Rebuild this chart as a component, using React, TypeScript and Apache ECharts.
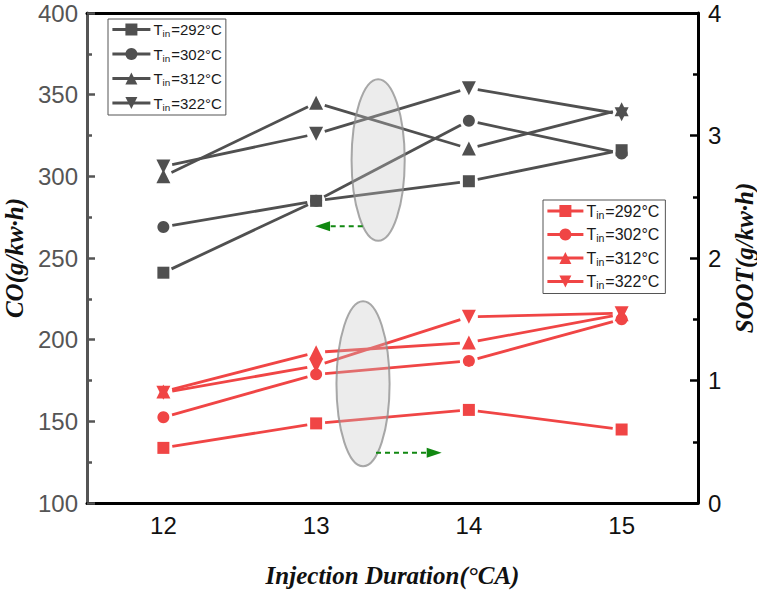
import React, { useEffect, useRef } from "react";
import * as echarts from "echarts";

const categories = ["12", "13", "14", "15"];
const temps = ["292", "302", "312", "322"];

const co292 = [241, 285, 297, 316];
const co302 = [269, 285, 334, 314];
const co312 = [300, 345, 317, 341];
const co322 = [306, 326, 354, 338];

const soot292 = [0.45, 0.65, 0.76, 0.6];
const soot302 = [0.7, 1.05, 1.16, 1.5];
const soot312 = [0.91, 1.23, 1.31, 1.54];
const soot322 = [0.9, 1.12, 1.52, 1.55];

const coTicks = { min: 100, max: 400, interval: 50 };
const sootTicks = { min: 0, max: 4, interval: 1 };

// annotations (in hidden value-axis index units / left axis units)
const ellipses = [
  [1.406, 310, 0.174, 49.5],
  [1.307, 173, 0.174, 50.5],
];
const arrows = [
  [1.305, 0.993, 269.5],
  [1.392, 1.822, 130.7],
];

const BLACK = "#505050";
const RED = "#F04545";
const DOWN_TRI = "path://M0,0 L10,0 L5,9 Z";
const symbols = ["rect", "circle", "triangle", DOWN_TRI];
const symbolSizes = [12, 12, 14, 14];

const coData = [co292, co302, co312, co322];
const sootData = [soot292, soot302, soot312, soot322];

function segRender(color: string) {
  return (params: any, api: any) => {
    const a = api.coord([api.value(0), api.value(1)]);
    const b = api.coord([api.value(2), api.value(3)]);
    const dx = b[0] - a[0];
    const dy = b[1] - a[1];
    const L = Math.hypot(dx, dy) || 1;
    const g = 9;
    const ux = dx / L;
    const uy = dy / L;
    return {
      type: "line",
      shape: {
        x1: a[0] + ux * g,
        y1: a[1] + uy * g,
        x2: b[0] - ux * g,
        y2: b[1] - uy * g,
      },
      style: { stroke: color, lineWidth: 2.8 },
    };
  };
}

export default function App() {
  const ref = useRef<HTMLDivElement>(null);
  useEffect(() => {
    if (!ref.current) return;
    const chart = echarts.init(ref.current, null, { renderer: "svg" });
    const series: any[] = [];
    const groups = [
      { data: coData, color: BLACK, y: 0, prefix: "CO" },
      { data: sootData, color: RED, y: 1, prefix: "SOOT" },
    ];
    groups.forEach((grp) => {
      grp.data.forEach((arr, i) => {
        series.push({
          type: "custom",
          xAxisIndex: 2,
          yAxisIndex: grp.y,
          silent: true,
          z: 2,
          encode: { x: [0, 2], y: [1, 3] },
          data: arr.slice(0, -1).map((v, k) => [k, v, k + 1, arr[k + 1]]),
          renderItem: segRender(grp.color),
        });
        series.push({
          type: "line",
          name: grp.prefix + " " + temps[i],
          xAxisIndex: 0,
          yAxisIndex: grp.y,
          data: arr,
          symbol: symbols[i],
          symbolSize: symbolSizes[i],
          showAllSymbol: true,
          lineStyle: { width: 0, opacity: 0 },
          itemStyle: { color: grp.color },
          z: 3,
        });
      });
    });
    series.push({
      type: "custom",
      xAxisIndex: 2,
      yAxisIndex: 0,
      silent: true,
      z: 5,
      data: ellipses,
      renderItem: (params: any, api: any) => {
        const c = api.coord([api.value(0), api.value(1)]);
        const e = api.coord([api.value(0) + api.value(2), api.value(1) + api.value(3)]);
        return {
          type: "ellipse",
          shape: { cx: c[0], cy: c[1], rx: Math.abs(e[0] - c[0]), ry: Math.abs(e[1] - c[1]) },
          style: {
            fill: "rgba(195,195,195,0.32)",
            stroke: "rgba(140,140,140,0.75)",
            lineWidth: 2,
          },
        };
      },
    });
    series.push({
      type: "custom",
      xAxisIndex: 2,
      yAxisIndex: 0,
      silent: true,
      z: 5,
      data: arrows,
      renderItem: (params: any, api: any) => {
        const t = api.coord([api.value(0), api.value(2)]);
        const h = api.coord([api.value(1), api.value(2)]);
        const dir = h[0] > t[0] ? 1 : -1;
        const hl = 15;
        const hw = 5;
        return {
          type: "group",
          children: [
            {
              type: "line",
              shape: { x1: t[0], y1: t[1], x2: h[0] - dir * hl, y2: h[1] },
              style: { stroke: "#118811", lineWidth: 2, lineDash: [5, 4] },
            },
            {
              type: "polygon",
              shape: {
                points: [
                  [h[0], h[1]],
                  [h[0] - dir * hl, h[1] - hw],
                  [h[0] - dir * hl, h[1] + hw],
                ],
              },
              style: { fill: "#118811" },
            },
          ],
        };
      },
    });

    const legendText = (name: string) => {
      const t = name.split(" ")[1];
      return "{t|T}{s|in}{t|=" + t + "°C}";
    };
    const mkLegend = (prefix: string, left: number, top: number, fs: number, gap: number, iw: number, pad: number[]) => ({
      data: temps.map((t) => prefix + " " + t),
      orient: "vertical",
      left,
      top,
      itemWidth: iw,
      itemHeight: 15,
      itemGap: gap,
      padding: pad,
      borderColor: "#555",
      borderWidth: 1,
      selectedMode: false,
      lineStyle: { width: 2.8, opacity: 1, inactiveWidth: 2.8 },
      formatter: legendText,
      textStyle: {
        color: "#1a1a1a",
        fontFamily: "Liberation Sans",
        padding: [0, 0, 0, -2],
        rich: {
          t: { fontSize: fs, lineHeight: 18, fontFamily: "Liberation Sans", color: "#1a1a1a" },
          s: { fontSize: fs * 0.66, lineHeight: 12, verticalAlign: "bottom", fontFamily: "Liberation Sans", color: "#1a1a1a", padding: [0, 1, 0, 0] },
        },
      },
    });

    const labelFont = { fontFamily: "Liberation Sans", fontSize: 24, lineHeight: 20 };
    const nameFont = {
      fontFamily: "Liberation Serif",
      fontWeight: "bold",
      fontStyle: "italic",
      fontSize: 25,
      color: "#111",
    };

    chart.setOption({
      animation: false,
      backgroundColor: "#fff",
      grid: { left: 87, right: 59, top: 13, bottom: 87, containLabel: false, outerBoundsMode: "none" },
      legend: [
        mkLegend("CO", 108, 19, 15, 8, 38, [3, 4, 3, 3]),
        mkLegend("SOOT", 543, 200, 16, 6.5, 36, [3, 6, 3, 3]),
      ],
      xAxis: [
        {
          type: "category",
          data: categories,
          boundaryGap: true,
          position: "bottom",
          name: "Injection Duration(°CA)",
          nameLocation: "middle",
          nameGap: 60,
          nameTextStyle: nameFont,
          axisLine: { onZero: false, lineStyle: { color: "#000", width: 3 } },
          axisTick: { alignWithLabel: true, inside: true, length: 8, lineStyle: { color: "#000", width: 2.5 } },
          axisLabel: { ...labelFont, color: "#111", margin: 12 },
          splitLine: { show: false },
        },
        {
          type: "category",
          data: categories,
          position: "top",
          axisLine: { onZero: false, lineStyle: { color: "#000", width: 3 } },
          axisTick: { show: false },
          axisLabel: { show: false },
          splitLine: { show: false },
        },
        {
          type: "value",
          min: -0.5,
          max: 3.5,
          show: false,
          axisLine: { onZero: false },
          splitLine: { show: false },
        },
      ],
      yAxis: [
        {
          type: "value",
          position: "left",
          ...coTicks,
          name: "CO(g/kw·h)",
          nameLocation: "middle",
          nameGap: 57,
          nameRotate: 90,
          nameTextStyle: nameFont,
          axisLine: { show: true, onZero: false, lineStyle: { color: "#555", width: 3 } },
          axisTick: { show: true, inside: true, length: 8, lineStyle: { color: "#555", width: 2.5 } },
          minorTick: { show: true, splitNumber: 2, length: 5, lineStyle: { color: "#555", width: 2.5 } },
          axisLabel: { ...labelFont, color: "#555", margin: 9 },
          splitLine: { show: false },
        },
        {
          type: "value",
          position: "right",
          ...sootTicks,
          name: "SOOT(g/kw·h)",
          nameLocation: "middle",
          nameGap: 32,
          nameRotate: 90,
          nameTextStyle: nameFont,
          axisLine: { show: true, onZero: false, lineStyle: { color: "#000", width: 3 } },
          axisTick: { show: true, inside: true, length: 8, lineStyle: { color: "#000", width: 2.5 } },
          minorTick: { show: true, splitNumber: 2, length: 5, lineStyle: { color: "#000", width: 2.5 } },
          axisLabel: { ...labelFont, color: "#111", margin: 10 },
          splitLine: { show: false },
        },
      ],
      series,
    });
    return () => chart.dispose();
  }, []);
  return (
    <div
      ref={ref}
      style={{ position: "fixed", left: 0, top: 0, width: 757, height: 590, background: "#fff" }}
    />
  );
}
